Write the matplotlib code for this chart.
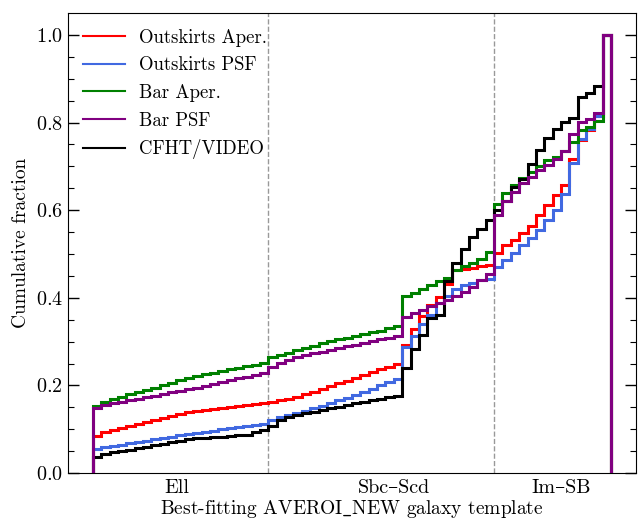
import numpy as np
import matplotlib
matplotlib.use('Agg')
import matplotlib.pyplot as plt
from matplotlib.lines import Line2D

plt.rcParams['font.family'] = ['cmr10', 'DejaVu Serif']
plt.rcParams['mathtext.fontset'] = 'cm'
plt.rcParams['axes.formatter.use_mathtext'] = True

# template bin edges (index along the AVEROI_NEW template sequence)
edges = np.arange(0, 63)

# cumulative fraction per template bin
outskirts_aper = [0.085, 0.093, 0.098, 0.103, 0.107, 0.112, 0.117, 0.121, 0.126, 0.130, 0.135, 0.140,
                  0.142, 0.144, 0.147, 0.149, 0.151, 0.154, 0.156, 0.158, 0.161, 0.163, 0.166, 0.170,
                  0.174, 0.180, 0.186, 0.192, 0.199, 0.205, 0.211, 0.218, 0.224, 0.230, 0.237, 0.243,
                  0.250, 0.292, 0.328, 0.358, 0.383, 0.402, 0.431, 0.463, 0.466, 0.469, 0.472, 0.474,
                  0.502, 0.520, 0.531, 0.548, 0.565, 0.588, 0.611, 0.634, 0.657, 0.716, 0.761, 0.782,
                  0.814, 1.0]
outskirts_psf = [0.054, 0.059, 0.062, 0.065, 0.068, 0.071, 0.074, 0.077, 0.080, 0.083, 0.086, 0.089,
                 0.092, 0.094, 0.097, 0.100, 0.102, 0.105, 0.108, 0.110, 0.113, 0.122, 0.128, 0.132,
                 0.136, 0.142, 0.148, 0.154, 0.160, 0.166, 0.172, 0.179, 0.185, 0.192, 0.200, 0.208,
                 0.214, 0.287, 0.312, 0.340, 0.360, 0.388, 0.404, 0.420, 0.429, 0.434, 0.440, 0.444,
                 0.470, 0.487, 0.502, 0.520, 0.537, 0.554, 0.577, 0.600, 0.638, 0.707, 0.763, 0.786,
                 0.816, 1.0]
bar_aper = [0.153, 0.163, 0.168, 0.174, 0.180, 0.185, 0.189, 0.194, 0.200, 0.206, 0.212, 0.217,
            0.221, 0.225, 0.229, 0.233, 0.237, 0.240, 0.244, 0.247, 0.251, 0.264, 0.269, 0.275,
            0.280, 0.286, 0.291, 0.296, 0.301, 0.305, 0.309, 0.313, 0.317, 0.321, 0.325, 0.330,
            0.335, 0.404, 0.411, 0.420, 0.429, 0.438, 0.446, 0.463, 0.472, 0.479, 0.488, 0.504,
            0.613, 0.640, 0.657, 0.674, 0.688, 0.700, 0.714, 0.721, 0.735, 0.755, 0.782, 0.789,
            0.803, 1.0]
bar_psf = [0.148, 0.155, 0.159, 0.163, 0.166, 0.170, 0.173, 0.177, 0.181, 0.184, 0.188, 0.191,
           0.195, 0.199, 0.204, 0.208, 0.212, 0.216, 0.220, 0.224, 0.229, 0.242, 0.251, 0.258,
           0.264, 0.269, 0.273, 0.277, 0.281, 0.285, 0.289, 0.293, 0.297, 0.301, 0.305, 0.309,
           0.313, 0.356, 0.365, 0.373, 0.381, 0.389, 0.396, 0.405, 0.414, 0.425, 0.440, 0.455,
           0.588, 0.622, 0.641, 0.662, 0.675, 0.691, 0.702, 0.717, 0.736, 0.774, 0.801, 0.809,
           0.821, 1.0]
cfht_video = [0.036, 0.043, 0.047, 0.050, 0.053, 0.057, 0.060, 0.064, 0.067, 0.070, 0.074, 0.077,
              0.079, 0.080, 0.082, 0.083, 0.085, 0.086, 0.088, 0.094, 0.098, 0.107, 0.121, 0.128,
              0.132, 0.136, 0.140, 0.144, 0.148, 0.151, 0.155, 0.159, 0.163, 0.167, 0.170, 0.174,
              0.177, 0.240, 0.284, 0.315, 0.353, 0.360, 0.438, 0.479, 0.512, 0.539, 0.558, 0.577,
              0.600, 0.622, 0.653, 0.672, 0.706, 0.738, 0.764, 0.786, 0.802, 0.811, 0.859, 0.868,
              0.884, 1.0]

labels = ['Outskirts Aper.', 'Outskirts PSF', 'Bar Aper.', 'Bar PSF', 'CFHT/VIDEO']
colors = ['red', 'royalblue', 'green', 'purple', 'black']
series = [outskirts_aper, outskirts_psf, bar_aper, bar_psf, cfht_video]

class_ticks = [10, 36, 56]
class_names = ['Ell', 'Sbc–Scd', 'Im–SB']
class_bounds = [21, 48]

fig = plt.figure(figsize=(6.4, 5.21), dpi=100)
ax = fig.add_axes([0.106, 0.092, 0.888, 0.883])

# purple drawn last so it sits on top at the edges
order = [0, 1, 2, 4, 3]
for i in order:
    ax.stairs(series[i], edges, baseline=0, color=colors[i], lw=2.2, zorder=3)

for b in class_bounds:
    ax.axvline(b, color='gray', ls='--', lw=1.0, alpha=0.8, zorder=1)

ax.set_xlim(-3, 65)
ax.set_ylim(0, 1.05)
ax.set_xticks(class_ticks)
ax.set_xticklabels(class_names)
ax.tick_params(axis='x', length=0, labelsize=14.5, pad=4)
ax.set_yticks([0.0, 0.2, 0.4, 0.6, 0.8, 1.0])
ax.set_yticks(np.arange(0, 1.05, 0.05), minor=True)
ax.tick_params(axis='y', which='major', direction='in', length=8, width=1, right=True, labelsize=14.5)
ax.tick_params(axis='y', which='minor', direction='in', length=4, width=0.8, right=True)
ax.set_ylabel('Cumulative fraction', fontsize=14)
ax.set_xlabel('Best-fitting AVEROI$\\_$NEW galaxy template', fontsize=14, labelpad=1)

handles = [Line2D([], [], color=c, lw=1.5) for c in colors]
ax.legend(handles, labels, loc='upper left', frameon=False, fontsize=13.5,
          handlelength=2.2, labelspacing=0.52, borderaxespad=0.43, handletextpad=0.76)

fig.savefig('out.png', dpi=100)
